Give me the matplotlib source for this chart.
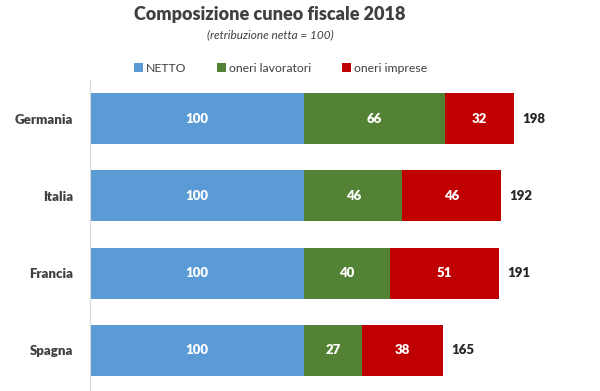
import matplotlib
matplotlib.use('Agg')
import matplotlib.pyplot as plt
import numpy as np

plt.rcParams['font.family'] = ['Lato', 'DejaVu Sans']

paesi = ['Germania', 'Italia', 'Francia', 'Spagna']
netto = [100, 100, 100, 100]
oneri_lav = [66, 46, 40, 27]
oneri_imp = [32, 46, 51, 38]
totale = [198, 192, 191, 165]

c_blu = '#5B9BD5'
c_verde = '#548235'
c_rosso = '#C00000'
grigio = '#404040'

fig = plt.figure(figsize=(6, 3.91), dpi=100)
ax = fig.add_axes([90 / 600, 0, 510 / 600, 311 / 391])

y = np.arange(len(paesi))
h = 0.66
b1 = ax.barh(y, netto, h, color=c_blu, label='NETTO')
b2 = ax.barh(y, oneri_lav, h, left=netto, color=c_verde, label='oneri lavoratori')
left3 = np.array(netto) + np.array(oneri_lav)
b3 = ax.barh(y, oneri_imp, h, left=left3, color=c_rosso, label='oneri imprese')

for bars in (b1, b2, b3):
    ax.bar_label(bars, label_type='center', color='white', fontsize=9.5, fontweight='heavy')

for yi, t in zip(y, totale):
    ax.text(t + 4, yi, str(t), va='center', ha='left', color='#262626',
            fontsize=9.5, fontweight='heavy')

ax.set_xlim(0, 510 / 2.14)
ax.set_ylim(3.525, -0.5)
ax.set_yticks(y)
ax.set_yticklabels(paesi, fontsize=9.5, fontweight='heavy', color=grigio)
ax.tick_params(axis='y', length=0, pad=12)
ax.set_xticks([])
for s in ('top', 'right', 'bottom'):
    ax.spines[s].set_visible(False)
ax.spines['left'].set_color('#d9d9d9')

fig.text(0.45, 0.962, 'Composizione cuneo fiscale 2018', ha='center', va='center',
         fontsize=13, fontweight='heavy', color=grigio)
fig.text(0.45, 0.91, '(retribuzione netta = 100)', ha='center', va='center',
         fontsize=8.5, style='italic', color=grigio)

fig.legend(handles=[b1, b2, b3], loc='center', bbox_to_anchor=(0.468, 0.826), ncol=3,
           frameon=False, fontsize=8.8, handlelength=0.7, handleheight=0.7,
           handletextpad=0.3, columnspacing=2.5, labelcolor=grigio)

fig.savefig('out.png', dpi=100)
